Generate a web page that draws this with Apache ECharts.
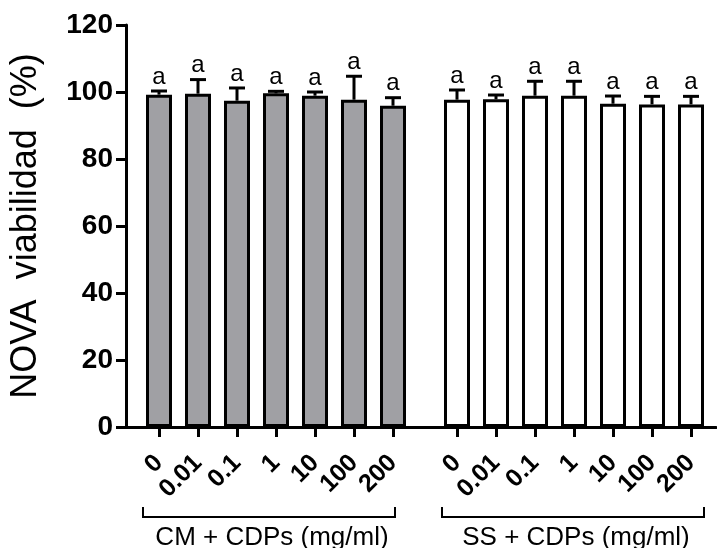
<!DOCTYPE html>
<html><head><meta charset="utf-8">
<script src="https://cdn.jsdelivr.net/npm/echarts@6/dist/echarts.min.js"></script>
<style>html,body{margin:0;padding:0;background:#fff}#c{width:717px;height:548px}</style>
</head><body><div id="c"></div>
<script>
const doses = ['0', '0.01', '0.1', '1', '10', '100', '200'];
const cmValues = [99.2, 99.5, 97.4, 99.6, 98.9, 97.7, 95.9];
const cmErrors = [1.1, 4.2, 3.8, 0.6, 1.1, 7.0, 2.4];
const ssValues = [97.7, 97.8, 98.9, 98.9, 96.5, 96.3, 96.3];
const ssErrors = [2.9, 1.3, 4.3, 4.3, 2.3, 2.4, 2.4];
const cmLetters = ['a', 'a', 'a', 'a', 'a', 'a', 'a'];
const ssLetters = ['a', 'a', 'a', 'a', 'a', 'a', 'a'];
const groupNames = ['CM + CDPs (mg/ml)', 'SS + CDPs (mg/ml)'];
const yTitle = 'NOVA  viabilidad  (%)';

const FONT = 'Liberation Sans';
const chart = echarts.init(document.getElementById('c'), null, {renderer: 'canvas'});

function errRender(letters) {
  return function (params, api) {
    const i = api.value(0);
    const base = api.coord([i, api.value(1)]);
    const top = api.coord([i, api.value(1) + api.value(2)]);
    const x = base[0];
    return {
      type: 'group',
      children: [
        {type: 'line', shape: {x1: x, y1: base[1], x2: x, y2: top[1]}, style: {stroke: '#000', lineWidth: 3}},
        {type: 'line', shape: {x1: x - 8, y1: top[1], x2: x + 8, y2: top[1]}, style: {stroke: '#000', lineWidth: 3}},
        {type: 'text', x: x, y: top[1] - 2, style: {text: letters[i], fontFamily: FONT, fontSize: 24, fill: '#000', align: 'center', verticalAlign: 'bottom'}}
      ]
    };
  };
}

const catAxis = (gi) => ({
  type: 'category', gridIndex: gi, data: doses,
  axisLine: {show: false},
  axisTick: {show: true, alignWithLabel: true, length: 10, lineStyle: {color: '#000', width: 3}},
  axisLabel: {rotate: 45, interval: 0, margin: 32, fontFamily: FONT, fontWeight: 'bold', fontSize: 25, color: '#000'}
});
const hiddenY = (gi) => ({type: 'value', gridIndex: gi, min: 0, max: 120, interval: 20, show: false});

chart.setOption({
  animation: false,
  grid: [
    {left: 125, right: 1, top: 25, height: 402},
    {left: 139.5, width: 273, top: 25, height: 402},
    {left: 437.5, width: 273, top: 25, height: 402}
  ],
  xAxis: [
    {type: 'value', gridIndex: 0, min: 0, max: 1, axisLine: {show: true, lineStyle: {color: '#000', width: 3}}, axisTick: {show: false}, axisLabel: {show: false}, splitLine: {show: false}},
    catAxis(1), catAxis(2)
  ],
  yAxis: [
    {type: 'value', gridIndex: 0, min: 0, max: 120, interval: 20,
     name: yTitle, nameLocation: 'middle', nameGap: 82, nameRotate: 90,
     nameTextStyle: {fontFamily: FONT, fontSize: 36, color: '#000'},
     axisLine: {show: true, lineStyle: {color: '#000', width: 3}},
     axisTick: {show: true, length: 10, lineStyle: {color: '#000', width: 3}},
     axisLabel: {margin: 13, fontFamily: FONT, fontWeight: 'bold', fontSize: 28, color: '#000'},
     splitLine: {show: false}},
    hiddenY(1), hiddenY(2)
  ],
  series: [
    {type: 'bar', xAxisIndex: 1, yAxisIndex: 1, data: cmValues, barWidth: 26,
     itemStyle: {color: '#a0a0a4', borderColor: '#000', borderWidth: 3}},
    {type: 'bar', xAxisIndex: 2, yAxisIndex: 2, data: ssValues, barWidth: 26,
     itemStyle: {color: '#ffffff', borderColor: '#000', borderWidth: 3}},
    {type: 'custom', xAxisIndex: 1, yAxisIndex: 1, z: 5,
     data: cmValues.map((v, i) => [i, v, cmErrors[i]]), renderItem: errRender(cmLetters)},
    {type: 'custom', xAxisIndex: 2, yAxisIndex: 2, z: 5,
     data: ssValues.map((v, i) => [i, v, ssErrors[i]]), renderItem: errRender(ssLetters)}
  ]
});

// group brackets under the axis labels, positioned from the category axes
const graphics = [];
[[1, 16, 2], [2, 15, 13]].forEach(([ax, padL, padR], gi) => {
  const x0 = chart.convertToPixel({xAxisIndex: ax}, doses[0]) - padL;
  const x1 = chart.convertToPixel({xAxisIndex: ax}, doses[doses.length - 1]) + padR;
  const y = 517;
  graphics.push({type: 'polyline', shape: {points: [[x0, y - 10], [x0, y], [x1, y], [x1, y - 10]]}, style: {stroke: '#000', lineWidth: 2, fill: null}});
  graphics.push({type: 'text', x: (x0 + x1) / 2 + 3, y: 538, style: {text: groupNames[gi], fontFamily: FONT, fontSize: 26, fill: '#000', align: 'center', verticalAlign: 'middle'}});
});
chart.setOption({graphic: graphics});
</script></body></html>
